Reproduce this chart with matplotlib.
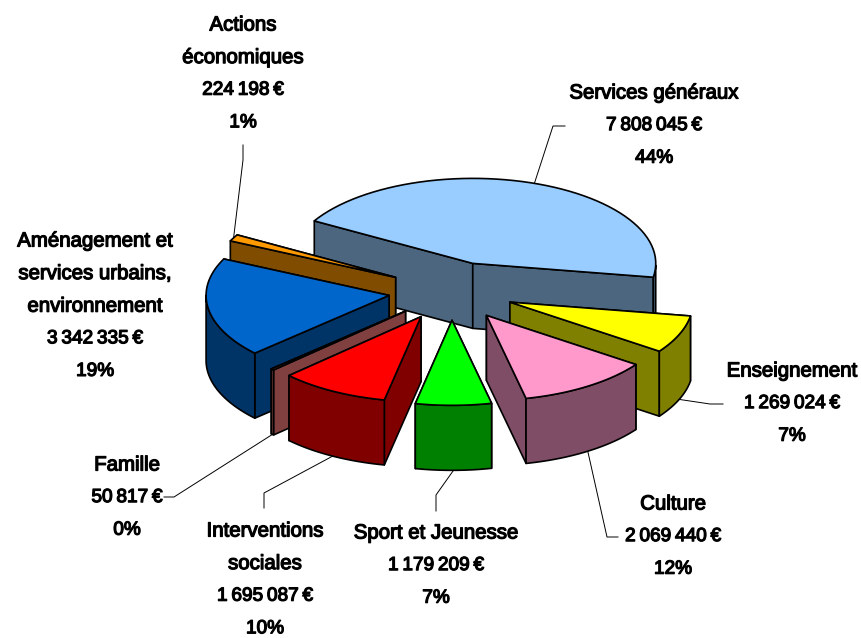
import matplotlib
matplotlib.use('Agg')
import matplotlib.pyplot as plt  # Plot functions
import matplotlib.patheffects as pe
import numpy as np  # Numerical toolbox

# Budget slices, clockwise from the start angle
names = [['Services généraux'], ['Enseignement'], ['Culture'], ['Sport et Jeunesse'],
         ['Interventions', 'sociales'], ['Famille'],
         ['Aménagement et', 'services urbains,', 'environnement'],
         ['Actions', 'économiques']]
values = [7808045, 1269024, 2069440, 1179209, 1695087, 50817, 3342335, 224198]
top_colors = ['#99CCFF', '#FFFF00', '#FF99CC', '#00FF00', '#FF0000', '#993333', '#0066CC', '#FF9900']
side_colors = ['#4D6680', '#808000', '#804D66', '#008000', '#800000', '#804040', '#003366', '#804D00']

# Label centre (x, first line y) and leader path from the label towards the slice
label_pos = [(654, 93), (792, 371), (673, 504), (436, 533), (265, 531), (127, 465), (95, 241), (243, 25)]
leader_path = [[(565, 126), (553, 126)], [(723, 404), (710, 404)], [(618, 537), (607, 537)],
               [(436, 511), (436, 495)], [(264, 508), (264, 493)], [(164, 497), (174, 497)],
               [], [(243, 145), (243, 160)]]

# Pie layout in pixels
cx, cy = 451.5, 291
rx, ry = 183, 85
depth = 65
explode = 0.345
start = 150.0
line_step = 32.6


def fmt_euro(v):
    return '{:,}'.format(v).replace(',', '\u2009') + '\u2009€'


def rim(t, off):
    return np.column_stack((off[0] + rx * np.cos(t), off[1] - ry * np.sin(t)))


f, ax = plt.subplots(figsize=(8.61, 6.38), dpi=100)
ax.set_position([0, 0, 1, 1])
ax.set_xlim(0, 861)
ax.set_ylim(638, 0)
ax.axis('off')

values = np.array(values)
spans = 360.0 * values / values.sum()
ends = start - np.cumsum(spans)
starts = ends + spans
mids = np.radians((starts + ends) / 2)

apex = np.column_stack((cx + explode * rx * np.cos(mids), cy - explode * ry * np.sin(mids)))
drop = np.array([0, depth])
style = dict(edgecolor='black', linewidth=1.2, joinstyle='round')

# Back slices first
for i in np.argsort(apex[:, 1]):
    t = np.radians(np.linspace(starts[i], ends[i], 60))
    arc = rim(t, apex[i])
    # radial walls, the one further back first
    for p in sorted((arc[0], arc[-1]), key=lambda q: q[1]):
        ax.fill(*np.array([apex[i], p, p + drop, apex[i] + drop]).T, facecolor=side_colors[i], **style)
    # outer wall, front part only
    front = arc[np.sin(t) <= 0]
    if len(front) > 1:
        ax.fill(*np.vstack((front, (front + drop)[::-1])).T, facecolor=side_colors[i], **style)
    ax.fill(*np.vstack((apex[i], arc)).T, facecolor=top_colors[i], **style)

# Labels and leader lines
for i in range(len(values)):
    pct = '{:.0f}%'.format(100.0 * values[i] / values.sum())
    lines = names[i] + [fmt_euro(values[i]), pct]
    for j, line in enumerate(lines):
        size = 14.7 if j < len(names[i]) else 13.7
        txt = ax.text(label_pos[i][0], label_pos[i][1] + j * line_step, line, ha='center', va='center',
                      family='Liberation Sans', size=size, color='black')
        txt.set_path_effects([pe.withStroke(linewidth=0.9, foreground='black')])
    if leader_path[i]:
        end = rim(np.array([mids[i]]), apex[i])[0]
        if np.sin(mids[i]) < 0:
            end = end + drop
        pts = np.array(leader_path[i] + [tuple(end)])
        ax.plot(pts[:, 0], pts[:, 1], color='black', linewidth=0.7)

f.savefig('out.png', dpi=100)
